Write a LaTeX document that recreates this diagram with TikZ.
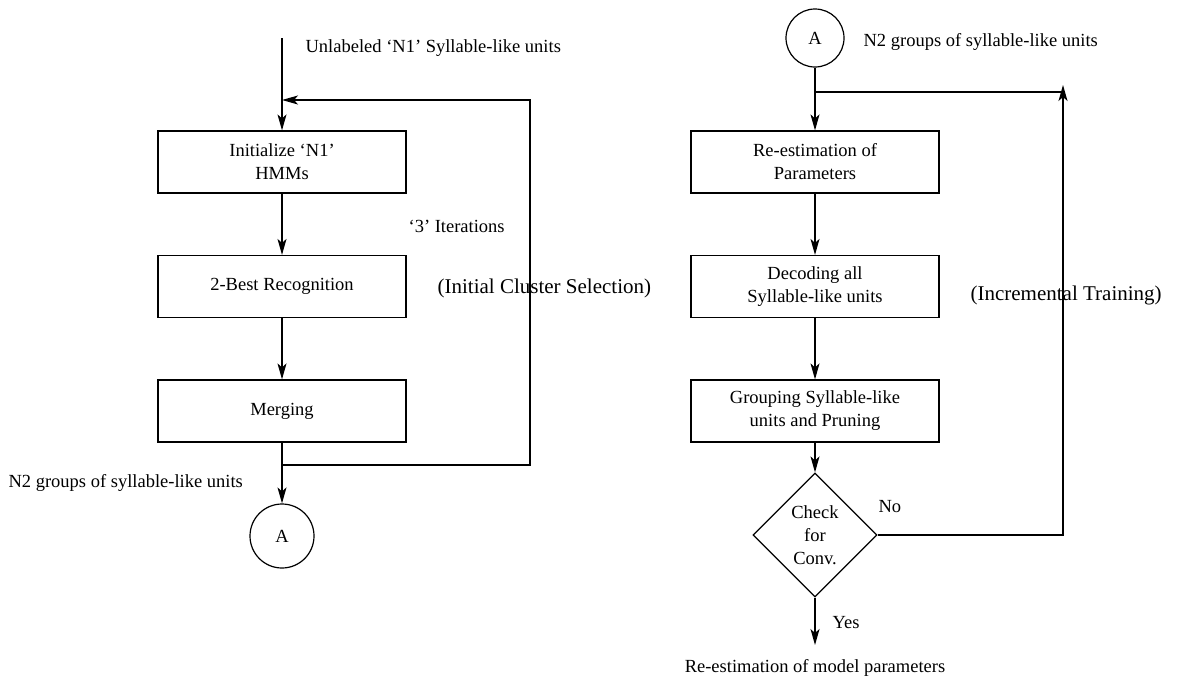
\documentclass[tikz,border=0pt]{standalone}
\usepackage{fontspec}
\setmainfont{Liberation Serif}
\usetikzlibrary{arrows.meta,positioning,shapes.geometric}
\tikzset{
  box/.style={draw,align=center,minimum width=248pt,minimum height=62pt,
              inner sep=0pt},
  circ/.style={draw,circle,minimum size=64pt,inner sep=0pt},
  dia/.style={draw,diamond,align=center,minimum width=124pt,
              minimum height=124pt,inner sep=0pt},
  arr/.style={-{Stealth[length=16pt,width=9pt,inset=4pt]}},
  lbl/.style={anchor=west,inner sep=0pt},
  big/.style={font=\fontsize{21}{25}\selectfont},
}
\begin{document}
\begin{tikzpicture}[x=1pt,y=-1pt,line width=1.2pt,
                    every node/.style={font=\fontsize{18.5}{23}\selectfont}]
\useasboundingbox (0,0) rectangle (1177,675);
% initial cluster selection
\node[box] (init) at (282,162) {Initialize `N1'\\HMMs};
\node[box] (best) at (282,286.5) {2-Best Recognition};
\node[box] (merge) at (282,411) {Merging};
\node[circ] (conA) at (282,536) {A};
\coordinate (in) at (282,38);
\coordinate (fbtop) at (530,100);
\coordinate (fbbot) at (530,465);
\draw[arr] (in) -- (init);
\draw[arr] (init) -- (best);
\draw[arr] (best) -- (merge);
\draw[arr] (merge) -- (conA);
\draw[arr] (merge.south |- fbbot) -- (fbbot) -- (fbtop) -- (init.north |- fbtop);
\node[lbl] (inlbl) at (305,48) {Unlabeled `N1' Syllable-like units};
\node[lbl] (iter) at (408,226) {`3' Iterations};
\node[lbl,big] (icsel) at (437,288) {(Initial Cluster Selection)};
\node[lbl] (n2a) at (8,483) {N2 groups of syllable-like units};
% incremental training
\node[circ,minimum size=58pt] (conB) at (815,38) {A};
\node[box] (reest) at (815,162) {Re-estimation of\\Parameters};
\node[box] (decode) at (815,286.5) {Decoding all\\Syllable-like units};
\node[box] (group) at (815,411) {Grouping Syllable-like\\units and Pruning};
\node[dia] (conv) at (815,535) {Check\\for\\Conv.};
\coordinate (out) at (815,645);
\coordinate (rtop) at (1063,85);
\coordinate (rjoin) at (1063,92);
\draw[arr] (conB) -- (reest);
\draw (conB.south |- rjoin) -- (rjoin);
\draw[arr] (reest) -- (decode);
\draw[arr] (decode) -- (group);
\draw[arr] (group) -- (conv);
\draw[arr] (conv) -- (out);
\draw[arr] (conv.east) -- (conv.east -| rtop) -- (rtop);
\node[lbl] (n2b) at (863,42) {N2 groups of syllable-like units};
\node[lbl,big] (inctr) at (970,295) {(Incremental Training)};
\node[lbl] (no) at (878,507) {No};
\node[lbl] (yes) at (832,623) {Yes};
\node (final) at (815,668) {Re-estimation of model parameters};
\end{tikzpicture}
\end{document}
